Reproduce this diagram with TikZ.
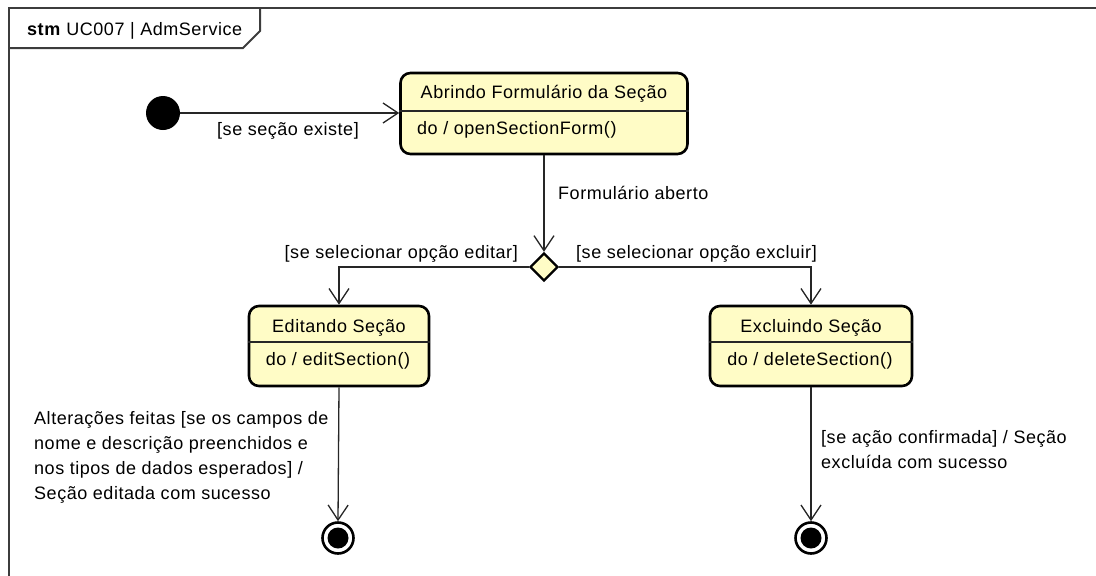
\documentclass[tikz,border=0pt]{standalone}
\usepackage{fontspec}
\setmainfont{Liberation Sans}[LetterSpace=3]
\usetikzlibrary{arrows.meta,shapes.geometric}
\definecolor{stfill}{RGB}{255,252,198}
\definecolor{framec}{RGB}{60,60,60}
\tikzset{
  statebox/.style={draw=black, line width=2.6pt, fill=stfill, rounded corners=10pt, inner sep=0pt},
  txt/.style={inner sep=0pt, font=\fontsize{18}{25}\selectfont},
  trans/.style={draw=black!85, line width=1.3pt, -{Straight Barb[length=15pt,width=20pt,line width=1.3pt]}},
  divider/.style={draw=black!85, line width=1.3pt},
  decis/.style={diamond, draw=black, line width=2.4pt, fill=stfill, minimum width=28pt, minimum height=28pt, inner sep=0pt},
  initst/.style={circle, fill=black, minimum size=34pt, inner sep=0pt},
  finalout/.style={circle, draw=black, line width=2.6pt, fill=white, minimum size=31pt, inner sep=0pt},
  finalin/.style={circle, fill=black, minimum size=21pt, inner sep=0pt},
  framel/.style={draw=framec, line width=2pt},
}
\begin{document}
\begin{tikzpicture}[x=1pt,y=-1pt]
\useasboundingbox (0,0) rectangle (1096,576);
% frame
\draw[framel] (9,576) -- (9,8) -- (1096,8);
\draw[framel] (9,48) -- (243,48) -- (260,31) -- (260,8);
\node[txt, anchor=west] (hdr) at (27,31) {\textbf{stm} UC007 | AdmService};
% initial
\node[initst] (init) at (163,113) {};
% state 1
\node[statebox, minimum width=287pt, minimum height=81pt] (s1) at (544,113.5) {};
\draw[divider] (s1.west |- 0,111) -- (s1.east |- 0,111);
\node[txt] (s1t) at (544,94) {Abrindo Formulário da Seção};
\node[txt, anchor=west] (s1b) at (417,130) {do / openSectionForm()};
% decision
\node[decis] (dec) at (544,267) {};
% state 2
\node[statebox, minimum width=180pt, minimum height=80pt] (s2) at (339,346) {};
\draw[divider] (s2.west |- 0,342) -- (s2.east |- 0,342);
\node[txt] (s2t) at (339,328) {Editando Seção};
\node[txt] (s2b) at (338,361) {do / editSection()};
% state 3
\node[statebox, minimum width=202pt, minimum height=80pt] (s3) at (811,346) {};
\draw[divider] (s3.west |- 0,342) -- (s3.east |- 0,342);
\node[txt] (s3t) at (811,328) {Excluindo Seção};
\node[txt] (s3b) at (810,361) {do / deleteSection()};
% finals
\node[finalout] (f1) at (338,538) {};
\node[finalin] (f1i) at (f1) {};
\node[finalout] (f2) at (811,538) {};
\node[finalin] (f2i) at (f2) {};
% transitions
\draw[trans] (init) -- (s1.west |- init);
\node[txt] (l1) at (288,131) {[se seção existe]};
\draw[trans] (s1.south) -- (dec.north);
\node[txt, anchor=west] (l2) at (558,193) {Formulário aberto};
\draw[trans] (dec.west) -| (s2.north);
\node[txt, anchor=east] (l3) at (518,254) {[se selecionar opção editar]};
\draw[trans] (dec.east) -| (s3.north);
\node[txt, anchor=west] (l4) at (576,254) {[se selecionar opção excluir]};
\draw[trans] (s2.south) -- (f1.north);
\node[txt, anchor=north west, align=left] (l5) at (34,411) {Alterações feitas [se os campos de\\nome e descrição preenchidos e\\nos tipos de dados esperados] /\\Seção editada com sucesso};
\draw[trans] (s3.south) -- (f2.north);
\node[txt, anchor=north west, align=left] (l6) at (821,430) {[se ação confirmada] / Seção\\excluída com sucesso};
\end{tikzpicture}
\end{document}
